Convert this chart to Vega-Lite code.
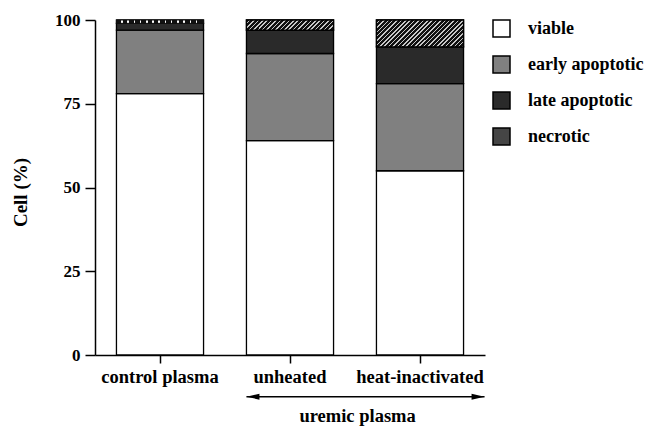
{
  "$schema": "https://vega.github.io/schema/vega-lite/v6.json",
  "width": 390,
  "height": 335,
  "autosize": {"type": "none"},
  "padding": {"left": 95, "top": 20, "right": 162, "bottom": 71},
  "background": "white",
  "config": {
    "font": "Liberation Serif",
    "view": {"stroke": null},
    "axis": {
      "grid": false,
      "domainColor": "black",
      "tickColor": "black",
      "domainWidth": 1.5,
      "tickWidth": 1.5,
      "labelFont": "Liberation Serif",
      "labelFontSize": 17,
      "labelFontWeight": "bold",
      "labelColor": "black",
      "titleFont": "Liberation Serif",
      "titleFontSize": 19,
      "titleFontWeight": "bold",
      "titleColor": "black"
    }
  },
  "layer": [
    {
      "data": {
        "values": [
          {"group": "control plasma", "state": "viable", "value": 78},
          {"group": "control plasma", "state": "early apoptotic", "value": 19},
          {"group": "control plasma", "state": "late apoptotic", "value": 2},
          {"group": "control plasma", "state": "necrotic", "value": 1},
          {"group": "unheated", "state": "viable", "value": 64},
          {"group": "unheated", "state": "early apoptotic", "value": 26},
          {"group": "unheated", "state": "late apoptotic", "value": 7},
          {"group": "unheated", "state": "necrotic", "value": 3},
          {"group": "heat-inactivated", "state": "viable", "value": 55},
          {"group": "heat-inactivated", "state": "early apoptotic", "value": 26},
          {"group": "heat-inactivated", "state": "late apoptotic", "value": 11},
          {"group": "heat-inactivated", "state": "necrotic", "value": 8}
        ]
      },
      "transform": [
        {"calculate": "indexof(['viable','early apoptotic','late apoptotic','necrotic'], datum.state)", "as": "ord"},
        {"stack": "value", "groupby": ["group"], "sort": [{"field": "ord", "order": "ascending"}], "as": ["y0", "y1"]}
      ],
      "encoding": {
        "x": {
          "field": "group",
          "type": "nominal",
          "sort": ["control plasma", "unheated", "heat-inactivated"],
          "scale": {"domain": ["control plasma", "unheated", "heat-inactivated"], "paddingInner": 0.33, "paddingOuter": 0.165},
          "axis": {"labelAngle": 0, "tickSize": 8, "labelPadding": 4, "labelFontSize": 18.5},
          "title": null
        },
        "y": {
          "field": "y0",
          "type": "quantitative",
          "scale": {"domain": [0, 100]},
          "axis": {"values": [0, 25, 50, 75, 100], "tickSize": 10, "labelPadding": 5, "titleX": -75, "titleY": 172, "titleAlign": "center", "titleBaseline": "middle", "titleAngle": 270},
          "title": "Cell (%)"
        },
        "y2": {"field": "y1"}
      },
      "layer": [
        {
          "mark": {"type": "bar", "strokeWidth": 1.3},
          "encoding": {
            "stroke": {"value": "black"},
            "color": {
              "field": "state",
              "type": "nominal",
              "scale": {
                "domain": ["viable", "early apoptotic", "late apoptotic", "necrotic"],
                "range": ["#ffffff", "#808080", "#2a2a2a", "#454545"]
              },
              "legend": {
                "orient": "none",
                "legendX": 397,
                "legendY": -1,
                "title": null,
                "padding": 0,
                "symbolType": "square",
                "symbolSize": 289,
                "symbolStrokeColor": "black",
                "symbolStrokeWidth": 1.5,
                "symbolOpacity": 1,
                "labelFont": "Liberation Serif",
                "labelFontSize": 18,
                "labelFontWeight": "bold",
                "labelColor": "black",
                "labelOffset": 17,
                "rowPadding": 13
              }
            }
          }
        },
        {
          "transform": [{"filter": "datum.group === 'heat-inactivated' && datum.state === 'necrotic'"}],
          "mark": {
            "type": "bar", "stroke": "black", "strokeWidth": 1.3,
            "fill": {
              "gradient": "linear", "x1": 0, "y1": 0, "x2": 1.1946, "y2": 0.368,
              "stops": [
                {"offset": 0, "color": "#111111"}, {"offset": 0.025, "color": "#111111"}, {"offset": 0.025, "color": "#c8c8c8"}, {"offset": 0.03846, "color": "#c8c8c8"},
                {"offset": 0.03846, "color": "#111111"}, {"offset": 0.06346, "color": "#111111"}, {"offset": 0.06346, "color": "#c8c8c8"}, {"offset": 0.07692, "color": "#c8c8c8"},
                {"offset": 0.07692, "color": "#111111"}, {"offset": 0.10192, "color": "#111111"}, {"offset": 0.10192, "color": "#c8c8c8"}, {"offset": 0.11538, "color": "#c8c8c8"},
                {"offset": 0.11538, "color": "#111111"}, {"offset": 0.14038, "color": "#111111"}, {"offset": 0.14038, "color": "#c8c8c8"}, {"offset": 0.15385, "color": "#c8c8c8"},
                {"offset": 0.15385, "color": "#111111"}, {"offset": 0.17885, "color": "#111111"}, {"offset": 0.17885, "color": "#c8c8c8"}, {"offset": 0.19231, "color": "#c8c8c8"},
                {"offset": 0.19231, "color": "#111111"}, {"offset": 0.21731, "color": "#111111"}, {"offset": 0.21731, "color": "#c8c8c8"}, {"offset": 0.23077, "color": "#c8c8c8"},
                {"offset": 0.23077, "color": "#111111"}, {"offset": 0.25577, "color": "#111111"}, {"offset": 0.25577, "color": "#c8c8c8"}, {"offset": 0.26923, "color": "#c8c8c8"},
                {"offset": 0.26923, "color": "#111111"}, {"offset": 0.29423, "color": "#111111"}, {"offset": 0.29423, "color": "#c8c8c8"}, {"offset": 0.30769, "color": "#c8c8c8"},
                {"offset": 0.30769, "color": "#111111"}, {"offset": 0.33269, "color": "#111111"}, {"offset": 0.33269, "color": "#c8c8c8"}, {"offset": 0.34615, "color": "#c8c8c8"},
                {"offset": 0.34615, "color": "#111111"}, {"offset": 0.37115, "color": "#111111"}, {"offset": 0.37115, "color": "#c8c8c8"}, {"offset": 0.38462, "color": "#c8c8c8"},
                {"offset": 0.38462, "color": "#111111"}, {"offset": 0.40962, "color": "#111111"}, {"offset": 0.40962, "color": "#c8c8c8"}, {"offset": 0.42308, "color": "#c8c8c8"},
                {"offset": 0.42308, "color": "#111111"}, {"offset": 0.44808, "color": "#111111"}, {"offset": 0.44808, "color": "#c8c8c8"}, {"offset": 0.46154, "color": "#c8c8c8"},
                {"offset": 0.46154, "color": "#111111"}, {"offset": 0.48654, "color": "#111111"}, {"offset": 0.48654, "color": "#c8c8c8"}, {"offset": 0.5, "color": "#c8c8c8"},
                {"offset": 0.5, "color": "#111111"}, {"offset": 0.525, "color": "#111111"}, {"offset": 0.525, "color": "#c8c8c8"}, {"offset": 0.53846, "color": "#c8c8c8"},
                {"offset": 0.53846, "color": "#111111"}, {"offset": 0.56346, "color": "#111111"}, {"offset": 0.56346, "color": "#c8c8c8"}, {"offset": 0.57692, "color": "#c8c8c8"},
                {"offset": 0.57692, "color": "#111111"}, {"offset": 0.60192, "color": "#111111"}, {"offset": 0.60192, "color": "#c8c8c8"}, {"offset": 0.61538, "color": "#c8c8c8"},
                {"offset": 0.61538, "color": "#111111"}, {"offset": 0.64038, "color": "#111111"}, {"offset": 0.64038, "color": "#c8c8c8"}, {"offset": 0.65385, "color": "#c8c8c8"},
                {"offset": 0.65385, "color": "#111111"}, {"offset": 0.67885, "color": "#111111"}, {"offset": 0.67885, "color": "#c8c8c8"}, {"offset": 0.69231, "color": "#c8c8c8"},
                {"offset": 0.69231, "color": "#111111"}, {"offset": 0.71731, "color": "#111111"}, {"offset": 0.71731, "color": "#c8c8c8"}, {"offset": 0.73077, "color": "#c8c8c8"},
                {"offset": 0.73077, "color": "#111111"}, {"offset": 0.75577, "color": "#111111"}, {"offset": 0.75577, "color": "#c8c8c8"}, {"offset": 0.76923, "color": "#c8c8c8"},
                {"offset": 0.76923, "color": "#111111"}, {"offset": 0.79423, "color": "#111111"}, {"offset": 0.79423, "color": "#c8c8c8"}, {"offset": 0.80769, "color": "#c8c8c8"},
                {"offset": 0.80769, "color": "#111111"}, {"offset": 0.83269, "color": "#111111"}, {"offset": 0.83269, "color": "#c8c8c8"}, {"offset": 0.84615, "color": "#c8c8c8"},
                {"offset": 0.84615, "color": "#111111"}, {"offset": 0.87115, "color": "#111111"}, {"offset": 0.87115, "color": "#c8c8c8"}, {"offset": 0.88462, "color": "#c8c8c8"},
                {"offset": 0.88462, "color": "#111111"}, {"offset": 0.90962, "color": "#111111"}, {"offset": 0.90962, "color": "#c8c8c8"}, {"offset": 0.92308, "color": "#c8c8c8"},
                {"offset": 0.92308, "color": "#111111"}, {"offset": 0.94808, "color": "#111111"}, {"offset": 0.94808, "color": "#c8c8c8"}, {"offset": 0.96154, "color": "#c8c8c8"},
                {"offset": 0.96154, "color": "#111111"}, {"offset": 0.98654, "color": "#111111"}, {"offset": 0.98654, "color": "#c8c8c8"}, {"offset": 1, "color": "#c8c8c8"}
              ]
            }
          }
        },
        {
          "transform": [{"filter": "datum.group === 'unheated' && datum.state === 'necrotic'"}],
          "mark": {
            "type": "bar", "stroke": "black", "strokeWidth": 1.3,
            "fill": {
              "gradient": "linear", "x1": 0, "y1": 0, "x2": 1.1004, "y2": 0.1266,
              "stops": [
                {"offset": 0, "color": "#111111"}, {"offset": 0.02955, "color": "#111111"}, {"offset": 0.02955, "color": "#c8c8c8"}, {"offset": 0.04545, "color": "#c8c8c8"},
                {"offset": 0.04545, "color": "#111111"}, {"offset": 0.075, "color": "#111111"}, {"offset": 0.075, "color": "#c8c8c8"}, {"offset": 0.09091, "color": "#c8c8c8"},
                {"offset": 0.09091, "color": "#111111"}, {"offset": 0.12045, "color": "#111111"}, {"offset": 0.12045, "color": "#c8c8c8"}, {"offset": 0.13636, "color": "#c8c8c8"},
                {"offset": 0.13636, "color": "#111111"}, {"offset": 0.16591, "color": "#111111"}, {"offset": 0.16591, "color": "#c8c8c8"}, {"offset": 0.18182, "color": "#c8c8c8"},
                {"offset": 0.18182, "color": "#111111"}, {"offset": 0.21136, "color": "#111111"}, {"offset": 0.21136, "color": "#c8c8c8"}, {"offset": 0.22727, "color": "#c8c8c8"},
                {"offset": 0.22727, "color": "#111111"}, {"offset": 0.25682, "color": "#111111"}, {"offset": 0.25682, "color": "#c8c8c8"}, {"offset": 0.27273, "color": "#c8c8c8"},
                {"offset": 0.27273, "color": "#111111"}, {"offset": 0.30227, "color": "#111111"}, {"offset": 0.30227, "color": "#c8c8c8"}, {"offset": 0.31818, "color": "#c8c8c8"},
                {"offset": 0.31818, "color": "#111111"}, {"offset": 0.34773, "color": "#111111"}, {"offset": 0.34773, "color": "#c8c8c8"}, {"offset": 0.36364, "color": "#c8c8c8"},
                {"offset": 0.36364, "color": "#111111"}, {"offset": 0.39318, "color": "#111111"}, {"offset": 0.39318, "color": "#c8c8c8"}, {"offset": 0.40909, "color": "#c8c8c8"},
                {"offset": 0.40909, "color": "#111111"}, {"offset": 0.43864, "color": "#111111"}, {"offset": 0.43864, "color": "#c8c8c8"}, {"offset": 0.45455, "color": "#c8c8c8"},
                {"offset": 0.45455, "color": "#111111"}, {"offset": 0.48409, "color": "#111111"}, {"offset": 0.48409, "color": "#c8c8c8"}, {"offset": 0.5, "color": "#c8c8c8"},
                {"offset": 0.5, "color": "#111111"}, {"offset": 0.52955, "color": "#111111"}, {"offset": 0.52955, "color": "#c8c8c8"}, {"offset": 0.54545, "color": "#c8c8c8"},
                {"offset": 0.54545, "color": "#111111"}, {"offset": 0.575, "color": "#111111"}, {"offset": 0.575, "color": "#c8c8c8"}, {"offset": 0.59091, "color": "#c8c8c8"},
                {"offset": 0.59091, "color": "#111111"}, {"offset": 0.62045, "color": "#111111"}, {"offset": 0.62045, "color": "#c8c8c8"}, {"offset": 0.63636, "color": "#c8c8c8"},
                {"offset": 0.63636, "color": "#111111"}, {"offset": 0.66591, "color": "#111111"}, {"offset": 0.66591, "color": "#c8c8c8"}, {"offset": 0.68182, "color": "#c8c8c8"},
                {"offset": 0.68182, "color": "#111111"}, {"offset": 0.71136, "color": "#111111"}, {"offset": 0.71136, "color": "#c8c8c8"}, {"offset": 0.72727, "color": "#c8c8c8"},
                {"offset": 0.72727, "color": "#111111"}, {"offset": 0.75682, "color": "#111111"}, {"offset": 0.75682, "color": "#c8c8c8"}, {"offset": 0.77273, "color": "#c8c8c8"},
                {"offset": 0.77273, "color": "#111111"}, {"offset": 0.80227, "color": "#111111"}, {"offset": 0.80227, "color": "#c8c8c8"}, {"offset": 0.81818, "color": "#c8c8c8"},
                {"offset": 0.81818, "color": "#111111"}, {"offset": 0.84773, "color": "#111111"}, {"offset": 0.84773, "color": "#c8c8c8"}, {"offset": 0.86364, "color": "#c8c8c8"},
                {"offset": 0.86364, "color": "#111111"}, {"offset": 0.89318, "color": "#111111"}, {"offset": 0.89318, "color": "#c8c8c8"}, {"offset": 0.90909, "color": "#c8c8c8"},
                {"offset": 0.90909, "color": "#111111"}, {"offset": 0.93864, "color": "#111111"}, {"offset": 0.93864, "color": "#c8c8c8"}, {"offset": 0.95455, "color": "#c8c8c8"},
                {"offset": 0.95455, "color": "#111111"}, {"offset": 0.98409, "color": "#111111"}, {"offset": 0.98409, "color": "#c8c8c8"}, {"offset": 1, "color": "#c8c8c8"}
              ]
            }
          }
        },
        {
          "transform": [{"filter": "datum.group === 'control plasma' && datum.state === 'necrotic'"}],
          "mark": {
            "type": "bar", "stroke": "#111111", "strokeWidth": 1,
            "fill": {
              "gradient": "linear", "x1": 0, "y1": 0, "x2": 1, "y2": 0,
              "stops": [
                {"offset": 0, "color": "#111111"}, {"offset": 0.05357, "color": "#111111"}, {"offset": 0.05357, "color": "#ffffff"}, {"offset": 0.07143, "color": "#ffffff"},
                {"offset": 0.07143, "color": "#111111"}, {"offset": 0.125, "color": "#111111"}, {"offset": 0.125, "color": "#ffffff"}, {"offset": 0.14286, "color": "#ffffff"},
                {"offset": 0.14286, "color": "#111111"}, {"offset": 0.19643, "color": "#111111"}, {"offset": 0.19643, "color": "#ffffff"}, {"offset": 0.21429, "color": "#ffffff"},
                {"offset": 0.21429, "color": "#111111"}, {"offset": 0.26786, "color": "#111111"}, {"offset": 0.26786, "color": "#ffffff"}, {"offset": 0.28571, "color": "#ffffff"},
                {"offset": 0.28571, "color": "#111111"}, {"offset": 0.33929, "color": "#111111"}, {"offset": 0.33929, "color": "#ffffff"}, {"offset": 0.35714, "color": "#ffffff"},
                {"offset": 0.35714, "color": "#111111"}, {"offset": 0.41071, "color": "#111111"}, {"offset": 0.41071, "color": "#ffffff"}, {"offset": 0.42857, "color": "#ffffff"},
                {"offset": 0.42857, "color": "#111111"}, {"offset": 0.48214, "color": "#111111"}, {"offset": 0.48214, "color": "#ffffff"}, {"offset": 0.5, "color": "#ffffff"},
                {"offset": 0.5, "color": "#111111"}, {"offset": 0.55357, "color": "#111111"}, {"offset": 0.55357, "color": "#ffffff"}, {"offset": 0.57143, "color": "#ffffff"},
                {"offset": 0.57143, "color": "#111111"}, {"offset": 0.625, "color": "#111111"}, {"offset": 0.625, "color": "#ffffff"}, {"offset": 0.64286, "color": "#ffffff"},
                {"offset": 0.64286, "color": "#111111"}, {"offset": 0.69643, "color": "#111111"}, {"offset": 0.69643, "color": "#ffffff"}, {"offset": 0.71429, "color": "#ffffff"},
                {"offset": 0.71429, "color": "#111111"}, {"offset": 0.76786, "color": "#111111"}, {"offset": 0.76786, "color": "#ffffff"}, {"offset": 0.78571, "color": "#ffffff"},
                {"offset": 0.78571, "color": "#111111"}, {"offset": 0.83929, "color": "#111111"}, {"offset": 0.83929, "color": "#ffffff"}, {"offset": 0.85714, "color": "#ffffff"},
                {"offset": 0.85714, "color": "#111111"}, {"offset": 0.91071, "color": "#111111"}, {"offset": 0.91071, "color": "#ffffff"}, {"offset": 0.92857, "color": "#ffffff"},
                {"offset": 0.92857, "color": "#111111"}, {"offset": 1, "color": "#111111"}
              ]
            }
          }
        }
      ]
    },
    {
      "data": {"values": [{"label": "uremic plasma"}]},
      "layer": [
        {
          "mark": {"type": "rule", "color": "black", "strokeWidth": 1.6},
          "encoding": {
            "x": {"datum": "unheated", "type": "nominal", "bandPosition": 0},
            "x2": {"datum": "heat-inactivated", "bandPosition": 1.241},
            "y": {"datum": -12.45, "type": "quantitative"}
          }
        },
        {
          "mark": {"type": "point", "filled": true, "color": "black", "opacity": 1, "size": 169, "shape": "M0,0 L2,-0.45 L2,0.45 Z", "strokeWidth": 0},
          "encoding": {
            "x": {"datum": "unheated", "type": "nominal", "bandPosition": 0},
            "y": {"datum": -12.45, "type": "quantitative"}
          }
        },
        {
          "mark": {"type": "point", "filled": true, "color": "black", "opacity": 1, "size": 169, "shape": "M0,0 L-2,-0.45 L-2,0.45 Z", "strokeWidth": 0},
          "encoding": {
            "x": {"datum": "heat-inactivated", "type": "nominal", "bandPosition": 1.241},
            "y": {"datum": -12.45, "type": "quantitative"}
          }
        },
        {
          "mark": {"type": "text", "font": "Liberation Serif", "fontSize": 18.5, "fontWeight": "bold", "color": "black", "align": "center", "baseline": "middle"},
          "encoding": {
            "x": {"datum": "unheated", "type": "nominal", "bandPosition": 1.276},
            "y": {"datum": -18.2, "type": "quantitative"},
            "text": {"field": "label"}
          }
        }
      ]
    }
  ]
}
